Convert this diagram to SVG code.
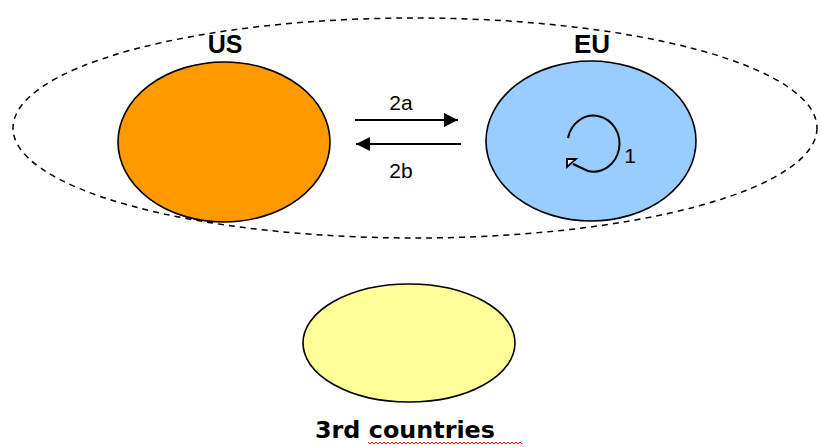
<svg xmlns="http://www.w3.org/2000/svg" width="822" height="447" viewBox="0 0 822 447">
<defs>
<style>
.node{stroke:#000;stroke-width:1.6}
.lbl{font-family:"Liberation Sans",Arial,sans-serif;font-weight:bold;fill:#000;text-anchor:middle}
.sm{font-family:"Liberation Sans",Arial,sans-serif;fill:#000;text-anchor:middle;font-size:21px}
.conn{stroke:#000;stroke-width:2;fill:none}
</style>
<marker id="ah" viewBox="0 0 10 10" refX="10" refY="5" markerWidth="16" markerHeight="14" markerUnits="userSpaceOnUse" orient="auto">
<path d="M0,0 L10,5 L0,10 z" fill="#000"/>
</marker>
</defs>
<rect width="822" height="447" fill="#fff"/>
<g id="group-us-eu">
<ellipse cx="415" cy="128" rx="402" ry="110" fill="none" stroke="#000" stroke-width="1.5" stroke-dasharray="6 5"/>
</g>
<g id="us">
<ellipse class="node" cx="224" cy="142" rx="106" ry="80" fill="#FF9900"/>
<text class="lbl" x="225" y="53" font-size="25">US</text>
</g>
<g id="eu">
<ellipse class="node" cx="591" cy="141" rx="105" ry="80" fill="#99CCFF"/>
<text class="lbl" x="592" y="53" font-size="26">EU</text>
</g>
<g id="third">
<ellipse class="node" cx="409" cy="343" rx="106" ry="59" fill="#FFFF99"/>
<text x="405" y="438" font-family="'DejaVu Sans',Verdana,sans-serif" font-weight="bold" font-size="23" text-anchor="middle" textLength="180" lengthAdjust="spacingAndGlyphs">3rd countries</text>
<path d="M368,442 l2,2 l2,-2 l2,2 l2,-2 l2,2 l2,-2 l2,2 l2,-2 l2,2 l2,-2 l2,2 l2,-2 l2,2 l2,-2 l2,2 l2,-2 l2,2 l2,-2 l2,2 l2,-2 l2,2 l2,-2 l2,2 l2,-2 l2,2 l2,-2 l2,2 l2,-2 l2,2 l2,-2 l2,2 l2,-2 l2,2 l2,-2 l2,2 l2,-2 l2,2 l2,-2 l2,2 l2,-2 l2,2 l2,-2 l2,2 l2,-2 l2,2 l2,-2 l2,2 l2,-2 l2,2 l2,-2 l2,2 l2,-2 l2,2 l2,-2 l2,2 l2,-2 l2,2 l2,-2 l2,2 l2,-2 l2,2 l2,-2 l2,2 l2,-2 l2,2 l2,-2 l2,2 l2,-2 l2,2 l2,-2 l2,2 l2,-2 l2,2 l2,-2 l2,2 l2,-2 l2,2" fill="none" stroke="#FF0000" stroke-width="1"/>
</g>
<g id="connectors">
<line class="conn" x1="355" y1="120" x2="458" y2="120" marker-end="url(#ah)"/>
<line class="conn" x1="461" y1="144" x2="356" y2="144" marker-end="url(#ah)"/>
<path class="conn" d="M568,138 A26,28 0 1 1 588,171 L573,164"/>
<polygon points="567,159 576,159 567,167" fill="#fff" stroke="#000" stroke-width="1.8" stroke-linejoin="miter"/>
<text class="sm" x="401" y="110">2a</text>
<text class="sm" x="401" y="178">2b</text>
<text class="sm" x="630" y="163">1</text>
</g>
</svg>
